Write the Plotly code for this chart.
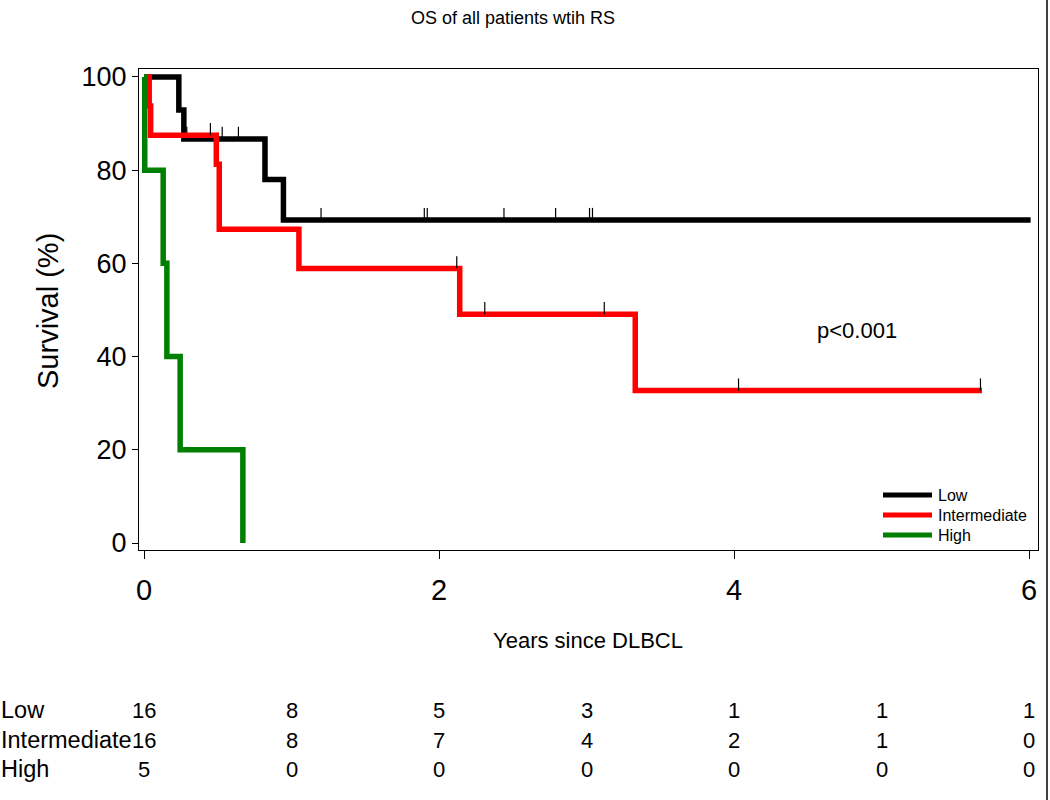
import numpy as np
import plotly.graph_objects as go

# ---- Kaplan-Meier step data (years, survival %) ----
low_times = [0, 0.236, 0.27, 0.82, 0.945, 6.01]
low_surv = [100, 92.9, 86.7, 78.0, 69.3, 69.3]
low_censor = [0.29, 0.53, 0.64, 1.20, 1.90, 1.92, 2.44, 2.79, 3.02, 3.04]

int_times = [0, 0.035, 0.045, 0.49, 0.51, 1.05, 2.14, 3.33, 5.68]
int_surv = [100, 93.75, 87.5, 81.25, 67.3, 58.9, 49.1, 32.7, 32.7]
int_censor = [0.45, 2.12, 2.31, 3.12, 4.03, 5.67]

high_times = [0, 0.005, 0.13, 0.155, 0.245, 0.67]
high_surv = [100, 80, 60, 40, 20, 0]
high_censor = []

group_names = ["Low", "Intermediate", "High"]
group_colors = ["#000000", "#ff0000", "#007f00"]

# ---- numbers at risk ----
risk_times = [0, 1, 2, 3, 4, 5, 6]
risk_low = [16, 8, 5, 3, 1, 1, 1]
risk_int = [16, 8, 7, 4, 2, 1, 0]
risk_high = [5, 0, 0, 0, 0, 0, 0]

title_text = "OS of all patients wtih RS"
x_title = "Years since DLBCL"
y_title = "Survival (%)"
p_text = "p<0.001"

FONT = "Liberation Sans, Arial, sans-serif"
W, H = 1050, 800
ML, MR, MT, MB = 139, 12, 69, 250
PW, PH = W - ML - MR, H - MT - MB


def px_x(px):
    return (px - ML) / PW


def px_y(py):
    return 1 - (py - MT) / PH


fig = go.Figure()

groups = [
    (low_times, low_surv, low_censor),
    (int_times, int_surv, int_censor),
    (high_times, high_surv, high_censor),
]


def surv_at(times, surv, t):
    idx = np.searchsorted(np.array(times), t, side="right") - 1
    return surv[max(idx, 0)]


for (times, surv, cens), name, col in zip(groups, group_names, group_colors):
    fig.add_trace(go.Scatter(
        x=times, y=surv, mode="lines", name=name,
        line=dict(color=col, width=5.5, shape="hv"),
        showlegend=False,
    ))
    if cens:
        cx, cy = [], []
        for t in cens:
            s = surv_at(times, surv, t)
            cx += [t, t, None]
            cy += [s, s + 2.6, None]
        fig.add_trace(go.Scatter(
            x=cx, y=cy, mode="lines", showlegend=False, hoverinfo="skip",
            line=dict(color="#000000", width=1.2),
        ))

annotations = []
# title
annotations.append(dict(text=title_text, x=px_x(513), y=px_y(18),
                        xref="paper", yref="paper", showarrow=False,
                        font=dict(family=FONT, size=18, color="black"),
                        xanchor="center", yanchor="middle"))
# axis titles
annotations.append(dict(text=x_title, x=px_x(588), y=px_y(640),
                        xref="paper", yref="paper", showarrow=False,
                        font=dict(family=FONT, size=22, color="black"),
                        xanchor="center", yanchor="middle"))
annotations.append(dict(text=y_title, x=px_x(48), y=px_y(311),
                        xref="paper", yref="paper", showarrow=False, textangle=-90,
                        font=dict(family=FONT, size=29, color="black"),
                        xanchor="center", yanchor="middle"))
# p-value
annotations.append(dict(text=p_text, x=4.83, y=45.7, xref="x", yref="y",
                        showarrow=False, font=dict(family=FONT, size=22, color="black"),
                        xanchor="center", yanchor="middle"))

# legend (drawn inside the plot, bottom right)
shapes = []
leg_y = [495, 515, 535]
for name, col, ly in zip(group_names, group_colors, leg_y):
    shapes.append(dict(type="line", xref="paper", yref="paper",
                       x0=px_x(883), x1=px_x(932), y0=px_y(ly), y1=px_y(ly),
                       line=dict(color=col, width=5)))
    annotations.append(dict(text=name, x=px_x(936), y=px_y(ly), xref="paper", yref="paper",
                            showarrow=False, font=dict(family=FONT, size=16, color="black"),
                            xanchor="left", yanchor="middle"))

# risk table
row_y = [710, 740, 769]
for name, vals, ypx in zip(group_names, [risk_low, risk_int, risk_high], row_y):
    yp = px_y(ypx)
    annotations.append(dict(text=name, x=px_x(-1), y=yp, xref="paper", yref="paper",
                            showarrow=False, font=dict(family=FONT, size=23.5, color="black"),
                            xanchor="left", yanchor="middle"))
    for t, v in zip(risk_times, vals):
        annotations.append(dict(text=str(v), x=t, y=yp, xref="x", yref="paper",
                                showarrow=False, font=dict(family=FONT, size=22, color="black"),
                                xanchor="center", yanchor="middle"))

# right-hand border of the image
shapes.append(dict(type="line", xref="paper", yref="paper",
                   x0=px_x(1047), x1=px_x(1047), y0=px_y(800), y1=px_y(0),
                   line=dict(color="black", width=1.5)))

fig.update_layout(
    width=W, height=H,
    margin=dict(l=ML, r=MR, t=MT, b=MB, autoexpand=False),
    paper_bgcolor="white", plot_bgcolor="white",
    font=dict(family=FONT, color="black"),
    annotations=annotations,
    shapes=shapes,
    showlegend=False,
    xaxis=dict(
        range=[-0.034, 6.06], tickvals=[0, 2, 4, 6], ticktext=["0", "2", "4", "6"],
        showgrid=False, zeroline=False, showline=True, linecolor="black", linewidth=1,
        mirror=True, ticks="outside", ticklen=8, tickcolor="black",
        tickfont=dict(family=FONT, size=29, color="black"),
        ticklabelstandoff=6, automargin=False,
    ),
    yaxis=dict(
        range=[-1.5, 101.7], tickvals=[0, 20, 40, 60, 80, 100],
        showgrid=False, zeroline=False, showline=True, linecolor="black", linewidth=1,
        mirror=True, ticks="outside", ticklen=6, tickcolor="black",
        tickfont=dict(family=FONT, size=27, color="black"), automargin=False,
    ),
)

fig.write_html(
    "out.html",
    config={"displayModeBar": False},
    post_script="document.body.style.margin='0';document.body.style.overflow='hidden';",
)
